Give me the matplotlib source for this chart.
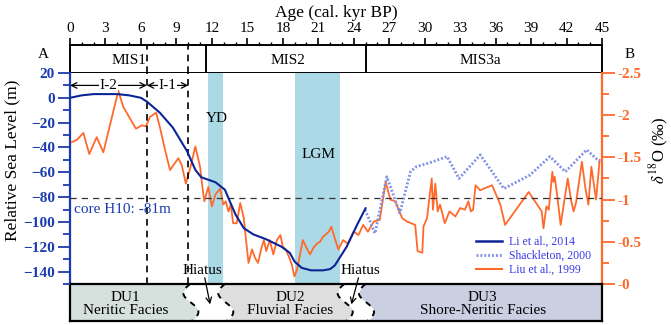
import matplotlib.pyplot as plt
import numpy as np
from matplotlib.lines import Line2D

plt.rcParams["font.family"] = ["Liberation Serif", "DejaVu Serif"]
plt.rcParams["mathtext.fontset"] = "stix"

# sea level curve (Li et al., 2014), m
li_age = [0, 1, 2, 3, 4, 5, 6, 6.5, 7.6, 8.7, 9.9, 10.6, 11.1, 12.3, 13.1, 13.5, 14.0,
          14.7, 15.5, 16.6, 17.9, 18.6, 19.0, 19.6, 20.4, 21.4, 22.0, 22.4, 23.4, 24.3, 25.0]
li_rsl = [0, 2, 3, 3, 3, 2, 0, -3, -12, -24, -43, -58, -64, -68, -74, -83, -94,
          -105, -110, -114, -120, -125, -132, -137, -139, -139, -138, -135, -120, -102, -89]

# Shackleton, 2000 (d18O)
sh_age = [24.96, 25.8, 26.8, 27.9, 28.8, 29.3, 30.5, 31.9, 32.9, 34.7, 36.7, 38.9,
          40.6, 41.9, 43.7, 44.8]
sh_d18o = [-0.88, -0.60, -1.27, -0.84, -1.33, -1.39, -1.44, -1.51, -1.25, -1.53, -1.13,
           -1.29, -1.51, -1.33, -1.59, -1.45]

# Liu et al., 1999 (d18O)
liu_age = [0.14, 0.6, 1.13, 1.63, 2.26, 2.82, 4.09, 4.5, 5.58, 6.06, 6.43, 6.77, 7.28, 7.6,
           8.04, 8.46, 9.16, 9.45, 9.8, 10.2, 10.6, 11.0, 11.2, 11.36, 11.7, 12.0, 12.3,
           12.7, 12.97, 13.17, 13.4, 13.6, 13.8, 14.1, 14.4, 14.7, 14.86, 15.1, 15.4,
           15.65, 15.9, 16.2, 16.4, 16.6, 16.9, 17.2, 17.5, 17.8, 18.0, 18.25, 18.5,
           18.76, 18.98, 19.2, 19.46, 19.7, 20.0, 20.3, 20.6, 20.9, 21.15, 21.4, 21.9,
           22.1, 22.4, 22.7, 23.1, 23.5, 24.0, 24.4, 24.8, 25.2, 25.7, 26.2, 26.7, 27.1,
           27.5, 28.1, 28.5, 29.2, 29.4, 29.8, 29.9, 30.2, 30.4, 30.6, 30.7, 30.9, 31.1,
           31.3, 31.7, 32.1, 32.6, 33.0, 33.4, 33.7, 33.9, 34.1, 34.3, 34.7, 35.0, 35.7,
           36.4, 36.8, 38.8, 39.9, 40.05, 40.3, 40.5, 40.8, 40.9, 41.0, 41.2, 41.5, 42.1,
           42.4, 42.6, 42.8, 43.3, 43.6, 43.85, 44.1, 44.5, 44.8]
liu_d18o = [-1.68, -1.71, -1.79, -1.54, -1.74, -1.56, -2.29, -2.10, -1.84, -1.88, -1.87,
            -1.98, -2.03, -1.86, -1.59, -1.35, -1.49, -1.41, -1.19, -1.39, -1.63, -1.39,
            -1.15, -0.98, -1.15, -0.92, -1.06, -1.13, -0.94, -0.98, -0.86, -0.94, -0.72,
            -0.72, -0.96, -0.78, -0.56, -0.25, -0.41, -0.31, -0.25, -0.43, -0.52, -0.39,
            -0.52, -0.35, -0.52, -0.58, -0.44, -0.41, -0.33, -0.23, -0.09, -0.17, -0.35,
            -0.52, -0.43, -0.35, -0.43, -0.48, -0.50, -0.56, -0.62, -0.68, -0.54, -0.41,
            -0.52, -0.48, -0.62, -0.58, -0.70, -0.62, -0.74, -0.76, -1.21, -1.00, -0.98,
            -0.78, -0.74, -0.70, -0.39, -0.37, -0.68, -0.78, -1.02, -1.25, -0.88, -1.19,
            -0.86, -0.94, -0.72, -0.86, -0.80, -0.90, -0.88, -0.98, -0.86, -0.88, -1.17,
            -1.11, -1.13, -1.17, -0.94, -0.70, -1.09, -0.86, -0.66, -0.92, -0.88, -1.33,
            -1.21, -1.27, -1.06, -0.70, -1.25, -0.98, -0.86, -0.96, -1.45, -1.13, -0.94,
            -1.39, -1.00, -1.47]

mis_edges = [0, 11.5, 25, 45]
mis_labels = ["MIS1", "MIS2", "MIS3a"]
mis_centers = [5.0, 18.4, 34.7]
interval_lines = [6.5, 10.0]
bands = {"YD": (11.65, 12.9), "LGM": (19.0, 22.85)}
hiatus_1 = (10.15, 13.1)
hiatus_2 = (23.2, 25.0)
du_labels = ["DU1\nNeritic Facies", "DU2\nFluvial Facies", "DU3\nShore-Neritic Facies"]
du_centers = [4.7, 18.6, 34.9]
du_colors = ["#d6e0dd", "#dedede", "#cacfe2"]
core_level = -81

BLUE = "#1b3caf"
NAVY = "#0b2596"
ORANGE = "#ff6a2c"
SHBLUE = "#8191e6"

W, H = 671, 325
fig = plt.figure(figsize=(W / 100, H / 100), dpi=100)


def box(x0, y0, x1, y1):
    return [x0 / W, 1 - y1 / H, (x1 - x0) / W, (y1 - y0) / H]


ax_mis = fig.add_axes(box(70, 45, 602, 73))
ax = fig.add_axes(box(70, 73, 602, 284))
ax2 = ax.twinx()
ax_du = fig.add_axes(box(70, 284, 602, 321))

# --- MIS strip
ax_mis.set_xlim(0, 45)
ax_mis.set_ylim(0, 1)
ax_mis.xaxis.tick_top()
ax_mis.set_xticks(np.arange(0, 46, 3))
ax_mis.set_xticks(np.arange(0, 46, 1), minor=True)
ax_mis.tick_params(axis="x", which="major", direction="out", length=5, width=1.2,
                   labelsize=11, pad=2)
ax_mis.tick_params(axis="x", which="minor", direction="out", length=2.5, width=1)
ax_mis.set_yticks([])
ax_mis.xaxis.set_label_position("top")
ax_mis.set_xlabel("Age (cal. kyr BP)", fontsize=12.5, labelpad=4)
for s in ax_mis.spines.values():
    s.set_linewidth(1.4)
for e in mis_edges[1:-1]:
    ax_mis.axvline(e, color="black", lw=1.4)
for lab, c in zip(mis_labels, mis_centers):
    ax_mis.text(c, 0.45, lab, ha="center", va="center", fontsize=11)
for x in interval_lines:
    ax_mis.axvline(x, color="black", lw=1.2, ls=(0, (4, 3)))

# --- main panel
ax.set_xlim(0, 45)
ax.set_ylim(-150, 20)
ax2.set_ylim(0, -2.5)
for name, (a, b) in bands.items():
    ax2.axvspan(a, b, color="#abd9e6", lw=0, zorder=0)
ax.text(12.4, -17, "YD", ha="center", va="center", fontsize=11)
ax.text(21.0, -46, "LGM", ha="center", va="center", fontsize=11)

for x in interval_lines:
    ax.axvline(x, color="black", lw=1.2, ls=(0, (4, 3)), zorder=1)
ax.axhline(core_level, color="#333333", lw=0.9, ls=(0, (5, 4)), zorder=1)
ax.text(0.3, -90, "core H10: -81m", color=BLUE, fontsize=11, va="center")

ax.annotate("", xy=(0, 10), xytext=(6.5, 10),
            arrowprops=dict(arrowstyle="<->", lw=0.9, color="black", shrinkA=0, shrinkB=0))
ax.annotate("", xy=(6.5, 10), xytext=(10.0, 10),
            arrowprops=dict(arrowstyle="<->", lw=0.9, color="black", shrinkA=0, shrinkB=0))
ax.text(3.25, 10, "I-2", ha="center", va="center", fontsize=11,
        bbox=dict(facecolor="white", edgecolor="none", pad=0.5))
ax.text(8.25, 10, "I-1", ha="center", va="center", fontsize=11,
        bbox=dict(facecolor="white", edgecolor="none", pad=0.5))

ax2.plot(liu_age, liu_d18o, color=ORANGE, lw=1.3, zorder=3)
ax2.plot(sh_age, sh_d18o, color=SHBLUE, lw=2.0, ls=(0, (0.7, 0.7)), zorder=3)
ax.plot(li_age, li_rsl, color=NAVY, lw=1.5, zorder=4)
ax.set_zorder(ax2.get_zorder() + 1)
ax.patch.set_visible(False)
ax2.patch.set_visible(True)

ax.set_xticks([])
ax.set_yticks(np.arange(-140, 21, 20))
ax.set_yticks(np.arange(-150, 21, 10), minor=True)
ax.tick_params(axis="y", which="major", length=9, width=1.3, colors=BLUE, labelsize=11, pad=2)
ax.tick_params(axis="y", which="minor", length=5, width=1.3, colors=BLUE)
for t in ax.get_yticklabels():
    t.set_fontweight("bold")
ax2.set_yticks([-2.5, -2, -1.5, -1, -0.5, 0])
ax2.set_yticklabels(["-2.5", "-2", "-1.5", "-1", "-0.5", "-0"], fontweight="bold")
ax2.set_yticks(np.arange(-2.5, 0.01, 0.25), minor=True)
ax2.tick_params(axis="y", which="major", length=9, width=1.3, colors=ORANGE, labelsize=11, pad=2)
ax2.tick_params(axis="y", which="minor", length=5, width=1.3, colors=ORANGE)
ax2.spines["left"].set_color(BLUE)
ax2.spines["right"].set_color(ORANGE)
ax2.spines["left"].set_linewidth(1.6)
ax2.spines["right"].set_linewidth(1.6)
ax2.spines["top"].set_visible(False)
ax2.spines["bottom"].set_visible(False)
for s in ax.spines.values():
    s.set_visible(False)

handles = [Line2D([], [], color=NAVY, lw=1.8),
           Line2D([], [], color=SHBLUE, lw=2.0, ls=(0, (0.7, 0.7))),
           Line2D([], [], color=ORANGE, lw=1.5)]
leg = ax.legend(handles, ["Li et al., 2014", "Shackleton, 2000", "Liu et al., 1999"],
                loc="lower right", bbox_to_anchor=(0.995, 0.0), frameon=False, fontsize=8.5,
                handlelength=2.2, labelspacing=0.15, handletextpad=0.6, borderpad=0.2)
for t in leg.get_texts():
    t.set_color("#3a3ae6")

# --- depositional units strip
ax_du.set_xlim(0, 45)
ax_du.set_ylim(0, 1)
ax_du.set_xticks([])
ax_du.set_yticks([])
for s in ax_du.spines.values():
    s.set_linewidth(1.6)

t = np.linspace(0, 1, 60)
yy = 1 - t


def wavy(x0):
    return x0 - 0.6 * np.sin(2 * np.pi * t) + 0.15 * t


ax_du.fill_betweenx(yy, 0, wavy(hiatus_1[0]), color=du_colors[0], lw=0)
ax_du.fill_betweenx(yy, wavy(hiatus_1[1]), wavy(hiatus_2[0]), color=du_colors[1], lw=0)
ax_du.fill_betweenx(yy, wavy(hiatus_2[1]), 45, color=du_colors[2], lw=0)
for x0 in list(hiatus_1) + list(hiatus_2):
    ax_du.plot(wavy(x0), yy, color="black", lw=1.4, ls=(0, (3, 3)))
for lab, c in zip(du_labels, du_centers):
    ax_du.text(c, 0.47, lab, ha="center", va="center", fontsize=11, linespacing=1.0)

# hiatus labels with arrows into the unit strip
ax.text(11.2, -139, "Hiatus", ha="center", va="center", fontsize=11)
ax.text(24.6, -139, "Hiatus", ha="center", va="center", fontsize=11)
ax_du.annotate("", xy=(11.85, 0.45), xytext=(11.4, -145), textcoords=ax.transData,
               arrowprops=dict(arrowstyle="->", lw=0.9, color="black", shrinkA=0, shrinkB=0))
ax_du.annotate("", xy=(23.8, 0.45), xytext=(24.4, -145), textcoords=ax.transData,
               arrowprops=dict(arrowstyle="->", lw=0.9, color="black", shrinkA=0, shrinkB=0))

fig.text(43 / W, 1 - 55 / H, "A", fontsize=11, ha="center", va="center")
fig.text(630 / W, 1 - 55 / H, "B", fontsize=11, ha="center", va="center")
fig.text(12 / W, 1 - 160 / H, "Relative Sea Level (m)", fontsize=12.5, rotation=90,
         ha="center", va="center")
fig.text(659 / W, 1 - 150 / H, r"$\delta^{18}$O (‰)", fontsize=12, rotation=90,
         ha="center", va="center")

plt.savefig("out.png", dpi=100)
